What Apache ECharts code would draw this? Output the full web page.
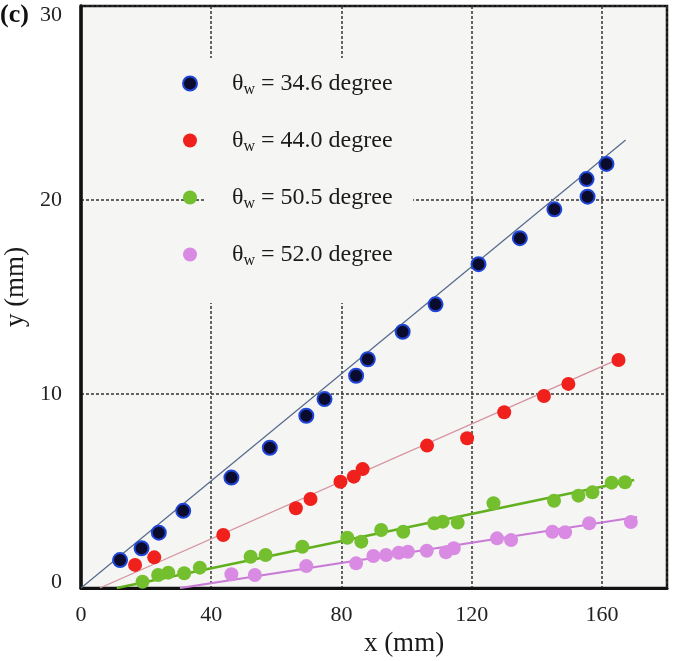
<!DOCTYPE html>
<html>
<head>
<meta charset="utf-8">
<script src="https://cdn.jsdelivr.net/npm/echarts@6/dist/echarts.min.js"></script>
<style>
html,body{margin:0;padding:0;background:#ffffff;}
#chart{width:685px;height:661px;}
</style>
</head>
<body>
<div id="chart"></div>
<script>
// ---- data ----
var xTicks = [0, 40, 80, 120, 160];
var yTicks = [0, 10, 20, 30];

var seriesNames = ['θw = 34.6 degree', 'θw = 44.0 degree', 'θw = 50.5 degree', 'θw = 52.0 degree'];
var legendValues = ['34.6', '44.0', '50.5', '52.0'];

var blueX = [12.0, 18.6, 23.9, 31.4, 46.2, 58.0, 69.2, 74.8, 84.5, 88.1, 98.8, 108.9, 122.1, 134.8, 145.4, 155.3, 155.6, 161.4];
var blueY = [1.44, 2.05, 2.85, 3.98, 5.69, 7.23, 8.88, 9.74, 10.94, 11.79, 13.21, 14.62, 16.69, 18.03, 19.52, 21.08, 20.17, 21.86];

var redX = [16.6, 22.5, 43.7, 66.0, 70.5, 79.7, 83.8, 86.5, 106.3, 118.6, 130.0, 142.2, 149.7, 165.1];
var redY = [1.19, 1.58, 2.73, 4.11, 4.59, 5.48, 5.74, 6.13, 7.34, 7.72, 9.06, 9.90, 10.52, 11.75];

var greenX = [18.9, 23.7, 26.8, 31.7, 36.5, 52.1, 56.7, 68.0, 81.8, 86.1, 92.2, 99.0, 108.5, 111.1, 115.7, 126.7, 145.3, 152.8, 157.1, 163.0, 167.1];
var greenY = [0.32, 0.67, 0.79, 0.76, 1.05, 1.61, 1.70, 2.13, 2.59, 2.39, 2.99, 2.90, 3.34, 3.42, 3.37, 4.37, 4.50, 4.76, 4.93, 5.43, 5.45];

var pinkX = [46.2, 53.4, 69.2, 84.5, 89.8, 93.7, 97.6, 100.4, 106.2, 112.1, 114.5, 127.8, 132.1, 144.8, 148.7, 156.1, 168.9];
var pinkY = [0.71, 0.67, 1.13, 1.27, 1.65, 1.70, 1.82, 1.87, 1.92, 1.84, 2.05, 2.56, 2.47, 2.90, 2.87, 3.34, 3.40];

// fitted lines (endpoints)
var blueFitX = [0, 167.3];   var blueFitY = [0, 23.09];
var redFitX = [5.8, 165.1];  var redFitY = [0, 11.8];
var greenFitX = [11.0, 169.9]; var greenFitY = [0, 5.57];
var pinkFitX = [30.4, 170.8];  var pinkFitY = [0, 3.66];

// ---- build ----
function pairs(xs, ys) { return xs.map(function (x, i) { return [x, ys[i]]; }); }

var FONT = '"Liberation Serif", "DejaVu Serif", serif';
var plotBg = '#f5f5f3';

var colors = {
  blue: { fill: '#0b0b2e', border: '#1f45d6' },
  red: { fill: '#f0201c', border: '#f0201c' },
  green: { fill: '#74bf2e', border: '#74bf2e' },
  pink: { fill: '#d98be3', border: '#d98be3' }
};

function scatter(name, xs, ys, c) {
  return {
    name: name, type: 'scatter', data: pairs(xs, ys), symbolSize: 14, z: 5,
    itemStyle: { color: c.fill, borderColor: c.border, borderWidth: c === colors.blue ? 2 : 0, opacity: 1 }
  };
}
function fit(xs, ys, color, w) {
  return {
    type: 'line', data: pairs(xs, ys), showSymbol: false, symbol: 'none', z: 3,
    silent: true, lineStyle: { color: color, width: w }, emphasis: { disabled: true }
  };
}

var chart = echarts.init(document.getElementById('chart'), null, { renderer: 'canvas' });

var option = {
  animation: false,
  backgroundColor: '#ffffff',
  title: {
    text: '(c)', left: 0, top: 2, padding: 0,
    textStyle: { fontFamily: FONT, fontSize: 26, fontWeight: 'bold', color: '#111' }
  },
  grid: {
    left: 81, right: 18, top: 6, bottom: 73,
    outerBoundsMode: 'none', containLabel: false,
    show: true, backgroundColor: plotBg, borderColor: '#111', borderWidth: 2.5
  },
  xAxis: {
    type: 'value', min: 0, max: 180, interval: 40,
    name: 'x (mm)', nameLocation: 'middle', nameGap: 40,
    nameTextStyle: { fontFamily: FONT, fontSize: 27, color: '#1a1a1a', padding: [0, 0, 0, 60] },
    axisLine: { show: true, onZero: false, lineStyle: { color: '#111', width: 3 } },
    axisTick: { show: false },
    axisLabel: {
      fontFamily: FONT, fontSize: 22, color: '#222', margin: 16, showMaxLabel: false,
      formatter: function (v) { return xTicks.indexOf(v) >= 0 ? String(v) : ''; }
    },
    splitLine: { show: true, lineStyle: { color: '#333', width: 1.5, type: [3, 2] } }
  },
  yAxis: {
    type: 'value', min: 0, max: 30, interval: 10,
    name: 'y (mm)', nameLocation: 'middle', nameGap: 44, nameRotate: 90,
    nameTextStyle: { fontFamily: FONT, fontSize: 27, color: '#1a1a1a', padding: [0, 0, 0, 20] },
    axisLine: { show: true, onZero: false, lineStyle: { color: '#111', width: 3.5 } },
    axisTick: { show: false },
    axisLabel: {
      fontFamily: FONT, fontSize: 22, color: '#222', margin: 19,
      formatter: function (v) {
        if (yTicks.indexOf(v) < 0) return '';
        if (v === yTicks[yTicks.length - 1]) return '{top|' + v + '}';
        if (v === yTicks[0]) return '{bot|' + v + '}';
        return String(v);
      },
      rich: {
        top: { fontFamily: FONT, fontSize: 22, color: '#222', padding: [18, 0, 0, 0] },
        bot: { fontFamily: FONT, fontSize: 22, color: '#222', padding: [0, 0, 12, 0] }
      }
    },
    splitLine: { show: true, lineStyle: { color: '#333', width: 1.5, type: [3, 2] } }
  },
  graphic: [{
    type: 'rect', z: 1, silent: true,
    shape: { x: 206, y: 58, width: 207, height: 245 },
    style: { fill: plotBg }
  }],
  legend: {
    orient: 'vertical', left: 177, top: 64, itemGap: 28,
    itemWidth: 14, itemHeight: 14, icon: 'circle',
    data: seriesNames,
    formatter: function (name) {
      var v = legendValues[seriesNames.indexOf(name)];
      return '{sp| }{t|θ}{s|w}{t| = ' + v + ' degree}';
    },
    textStyle: {
      color: '#1a1a1a', fontFamily: FONT, fontSize: 24,
      rich: {
        sp: { width: 30, fontSize: 24, fontFamily: FONT, lineHeight: 27 },
        t: { fontSize: 24, fontFamily: FONT, color: '#1a1a1a', lineHeight: 27 },
        s: { fontSize: 16, fontFamily: FONT, color: '#1a1a1a', lineHeight: 27, padding: [13, 0, 0, 0] }
      }
    }
  },
  series: [
    fit(blueFitX, blueFitY, '#55698c', 1.2),
    fit(redFitX, redFitY, '#d4919e', 1.3),
    fit(greenFitX, greenFitY, '#62b020', 2.6),
    fit(pinkFitX, pinkFitY, '#c97cd6', 2.2),
    scatter(seriesNames[0], blueX, blueY, colors.blue),
    scatter(seriesNames[1], redX, redY, colors.red),
    scatter(seriesNames[2], greenX, greenY, colors.green),
    scatter(seriesNames[3], pinkX, pinkY, colors.pink)
  ]
};
chart.setOption(option);
</script>
</body>
</html>
